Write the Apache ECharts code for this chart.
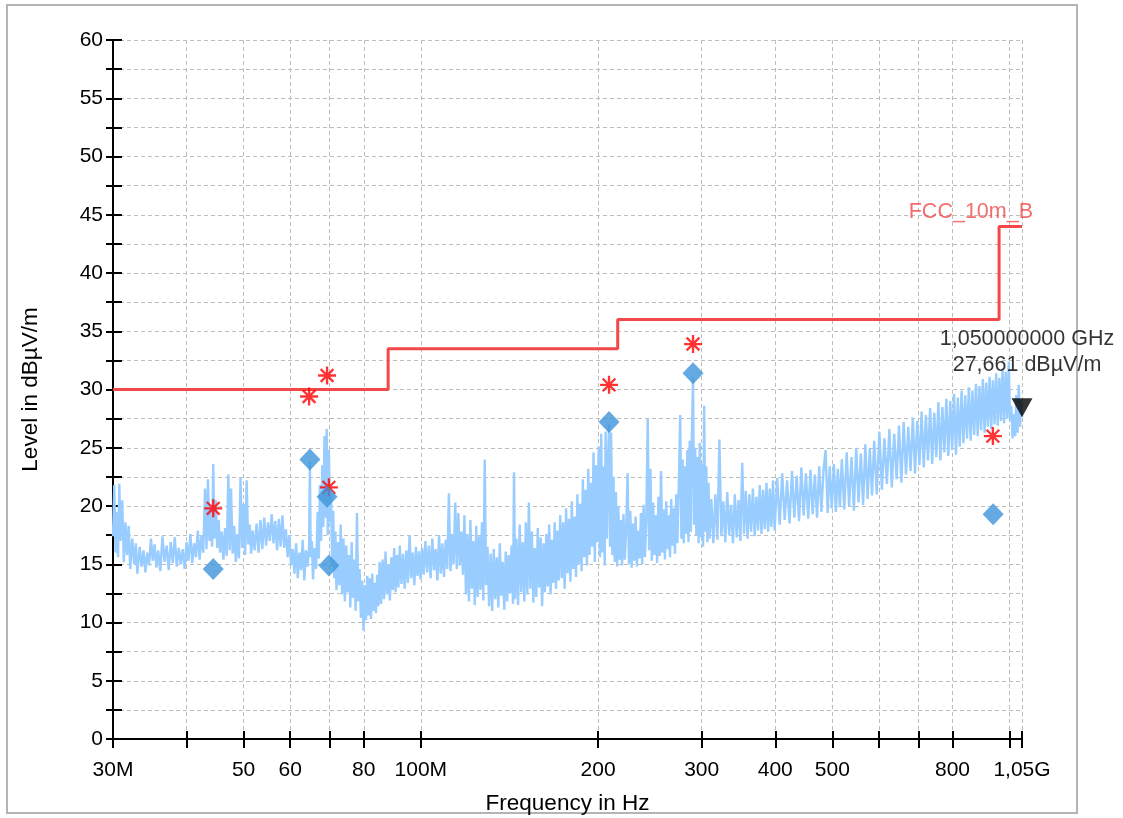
<!DOCTYPE html>
<html><head><meta charset="utf-8">
<script src="https://cdn.jsdelivr.net/npm/echarts@6/dist/echarts.min.js"></script>
<style>html,body{margin:0;padding:0;background:#fff}#c{width:1123px;height:818px}</style>
</head><body><div id="c"></div>
<script>
// ---- data (frequencies in MHz, levels in dBµV/m) ----
const xTickFreqs = [30,40,50,60,70,80,100,200,300,400,500,600,700,800,1000,1050];
const xLabelFreqs = [30,50,60,80,100,200,300,400,500,800,1050];
const xLabelText = {30:'30M',100:'100M',1050:'1,05G'};
const yTicks = [0,5,10,15,20,25,30,35,40,45,50,55,60];

const limitName = 'FCC_10m_B';
const limitFreq  = [30, 88, 88, 216, 216, 960, 960, 1050];
const limitLevel = [30, 30, 33.5, 33.5, 36, 36, 44, 44];

const peakFreq  = [44.4, 64.6, 69.3, 69.8, 208.8, 290, 937];
const peakLevel = [19.8, 29.4, 31.2, 21.6, 30.4, 33.9, 26.0];

const qpFreq  = [44.4, 64.8, 69.3, 69.8, 208.8, 290, 938];
const qpLevel = [14.6, 24.0, 20.8, 14.9, 27.2, 31.4, 19.3];

const markerFreq = 1050;
const markerLevel = 27.661;
const markerText = ['1,050000000 GHz', '27,661 dBµV/m'];

const traceData = [
[30.0,17.4],[30.15,21.8],[30.3,16.0],[30.45,19.5],[30.6,15.6],[30.75,21.9],[30.9,17.0],[31.1,20.5],[31.3,15.2],[31.5,18.6],
[31.7,15.8],[31.9,18.3],[32.1,14.6],[32.35,17.2],[32.6,15.0],[32.8,16.8],[33.0,14.2],[33.3,16.5],[33.55,14.8],[33.8,16.2],[34.05,14.3],[34.3,16.0],[34.55,14.9],[34.8,17.2],[35.05,15.3],[35.3,16.7],[35.55,14.7],[35.8,16.2],[36.1,14.4],[36.4,17.4],[36.7,15.2],[37.0,16.6],[37.3,14.5],[37.6,16.9],[37.9,15.1],[38.2,17.3],[38.5,14.8],[38.8,16.4],[39.1,15.0],[39.4,16.3],[39.7,14.6],[40.0,16.9],[40.3,15.3],[40.6,17.6],[40.9,15.1],[41.2,16.8],[41.5,15.6],[41.8,17.9],[42.1,15.4],[42.4,17.5],[42.7,16.0],
[43.0,21.5],[43.25,16.3],[43.5,22.3],[43.75,17.0],[44.0,19.8],[44.2,16.5],[44.4,23.6],[44.6,17.2],[44.85,20.5],[45.1,16.4],[45.35,18.8],[45.6,16.0],
[45.9,17.8],[46.2,15.4],[46.5,18.1],[46.8,15.7],[47.1,22.7],[47.35,16.2],[47.6,21.5],[47.9,15.9],[48.2,18.3],[48.5,15.2],[48.8,17.6],[49.1,15.5],[49.4,22.4],[49.7,16.4],[50.0,20.2],[50.3,15.8],[50.6,22.2],[50.9,16.7],[51.2,18.4],[51.5,15.9],[51.8,17.9],[52.2,16.2],[52.6,18.5],[53.0,16.0],[53.4,18.8],[53.8,16.3],[54.2,19.0],[54.6,16.6],[55.0,18.6],[55.4,17.0],[55.8,19.3],[56.2,16.8],[56.6,18.7],[57.0,16.2],[57.4,18.9],[57.8,16.5],[58.2,19.2],[58.6,16.4],[59.0,18.0],[59.4,15.6],[59.8,17.5],[60.2,14.9],
[60.6,16.3],[61.0,14.2],[61.4,16.8],[61.8,13.8],[62.2,16.0],[62.6,14.5],[63.0,17.1],[63.4,13.6],[63.8,16.2],[64.2,14.8],[64.6,16.5],[64.8,23.8],[65.0,15.6],[65.3,17.0],[65.6,13.7],[66.0,16.4],[66.4,14.6],
[66.8,19.5],[67.1,15.5],[67.4,21.8],[67.7,17.0],[68.0,23.5],[68.3,18.2],[68.6,26.0],[68.9,19.0],[69.2,26.6],[69.5,17.5],[69.8,24.8],[70.1,18.6],[70.4,21.0],[70.7,14.8],[71.0,19.6],[71.3,13.8],
[71.6,17.8],[71.9,12.8],[72.3,16.9],[72.7,13.2],[73.1,18.4],[73.5,12.4],[73.9,17.2],[74.3,11.8],[74.7,16.6],[75.1,12.6],[75.5,15.8],[75.9,11.3],[76.3,16.9],[76.7,12.1],[77.1,15.4],[77.5,11.0],[77.9,19.4],[78.3,11.8],[78.7,14.6],
[79.1,10.4],[79.5,13.6],[79.9,9.3],[80.3,13.2],[80.7,10.2],[81.1,14.0],[81.5,10.6],[81.9,13.8],[82.3,10.3],[82.7,14.2],[83.1,11.0],[83.5,13.4],[83.9,10.8],[84.3,14.1],[84.7,11.4],[85.1,15.2],
[85.6,11.6],[86.1,15.4],[86.6,12.0],[87.1,16.1],[87.6,12.4],[88.1,15.0],[88.6,11.9],[89.1,15.6],[89.6,12.8],[90.1,16.4],[90.6,12.6],[91.1,15.8],[91.6,13.0],[92.1,16.6],[92.7,13.3],[93.3,15.9],[93.9,12.9],[94.5,16.2],[95.1,13.4],[95.7,17.5],[96.3,13.8],[96.9,16.0],[97.5,13.2],[98.1,16.5],[98.7,14.0],[99.3,16.1],[99.9,13.7],[100.5,16.4],[101.1,14.1],
[101.8,17.0],[102.5,14.3],[103.2,16.6],[103.9,13.8],[104.6,17.2],[105.3,14.5],[106.0,16.3],[106.7,13.6],[107.4,17.5],[108.1,14.2],[108.8,16.8],[109.5,13.9],[110.2,17.1],[110.9,14.6],[111.6,21.1],[112.3,14.4],[113.0,17.6],[113.7,15.0],[114.4,20.3],[115.1,14.6],[115.8,19.4],[116.5,14.9],[117.2,17.8],[117.9,14.1],
[118.6,19.2],[119.3,12.4],[120.0,17.6],[120.7,11.8],[121.4,18.8],[122.1,12.9],[122.8,17.0],[123.5,11.5],[124.2,18.3],[124.9,12.2],[125.6,17.4],[126.3,12.8],[127.0,18.6],[127.7,11.9],[128.4,24.0],[129.1,13.2],
[129.8,16.5],[130.6,11.4],[131.4,15.9],[132.2,11.0],[133.0,16.3],[133.8,12.0],[134.6,15.6],[135.4,11.3],[136.2,16.8],[137.0,12.3],[137.8,15.2],[138.6,11.1],[139.4,16.1],[140.2,11.8],[141.0,15.8],[141.8,12.5],[142.6,16.6],[143.4,11.6],[144.0,22.9],[144.6,12.0],
[145.4,17.2],[146.3,11.5],[147.2,18.4],[148.1,12.6],[149.0,16.9],[149.9,11.8],[150.8,18.6],[151.7,12.4],[152.6,20.3],[153.5,12.9],[154.4,17.8],[155.3,11.7],[156.2,16.4],[157.1,12.2],[158.0,18.1],[158.9,13.0],[159.8,17.3],[160.7,11.4],[161.6,16.8],[162.5,12.6],[163.4,17.6],[164.3,13.1],[165.2,18.4],[166.1,12.4],[167.0,17.1],[167.9,13.4],[168.8,18.6],[169.7,12.9],[170.6,17.9],[171.5,13.6],
[172.5,19.2],[173.5,13.8],[174.5,18.6],[175.5,12.9],[176.5,19.8],[177.5,14.2],[178.5,18.9],[179.5,13.5],[180.5,20.4],[181.5,14.6],[182.5,19.1],[183.5,13.9],[184.5,21.0],[185.5,15.0],[186.5,20.2],[187.5,14.4],[188.5,22.3],[189.5,15.6],[190.5,21.4],[191.5,14.9],[192.5,23.2],[193.5,15.8],[194.5,22.0],[195.5,16.5],[196.5,24.6],[197.5,15.2],[198.5,23.5],[199.5,16.9],[200.5,25.1],[201.5,15.6],
[202.5,26.2],[203.5,16.0],[204.5,23.4],[205.3,14.9],[206.0,26.4],[207.0,17.2],[208.0,24.1],[208.8,27.0],[209.6,16.5],[210.5,26.3],[211.5,15.8],[212.5,22.5],[213.5,15.2],[214.5,21.2],[215.5,14.8],[216.5,20.0],[217.5,15.4],
[218.5,18.8],[219.7,14.9],[220.9,19.3],[222.1,15.4],[223.3,18.2],[224.5,22.8],[225.7,15.0],[226.9,19.6],[228.1,14.7],[229.3,18.5],[230.5,15.3],[231.7,19.1],[232.9,14.8],[234.1,17.9],[235.3,15.5],[236.5,19.4],[237.7,15.0],
[239.0,20.1],[240.3,15.6],[241.6,19.0],[242.9,27.5],[244.2,16.2],[245.5,23.2],[246.8,15.3],[248.1,20.3],[249.4,15.8],[250.7,19.2],[252.0,15.1],[253.3,20.8],[254.6,15.7],[255.9,23.0],[257.2,16.0],[258.5,19.7],[259.8,15.4],[261.1,20.4],[262.4,16.3],[263.7,19.2],[265.0,15.6],[266.3,20.6],[267.6,16.6],[268.9,19.8],[270.2,15.9],[271.5,21.0],[272.8,16.8],
[274.5,22.5],[275.8,27.8],[277.1,17.2],[278.4,24.0],[279.7,16.8],[281.0,23.4],[282.3,17.6],[283.6,24.8],[284.9,16.9],[286.2,25.6],[287.5,17.8],[288.8,26.4],[290.0,31.0],[291.2,18.4],[292.5,25.0],[293.8,17.5],[295.1,24.2],[296.4,16.8],[297.7,25.4],[299.0,17.3],[300.3,23.6],[301.6,16.5],[302.9,28.6],[304.2,17.8],[305.5,23.4],[306.8,16.9],[308.1,22.0],[309.4,17.2],
[311.5,20.6],[314,16.8],[316.5,21.0],[319,17.1],[321.5,25.7],[324,17.4],[326.5,20.4],[329,16.9],[331.5,21.2],[334,17.5],[336.5,20.1],[339,16.8],[341.5,21.0],[344,17.3],[346.5,20.5],[349,17.0],[351.5,23.7],[354,17.6],[356.5,21.3],[359,17.2],[361.5,21.0],[364,17.8],[366.5,21.5],[369,17.4],[371.5,20.8],[374,17.9],[376.5,21.8],[379,17.6],[381.5,21.4],[384,18.0],[386.5,22.0],[389,17.8],[391.5,21.5],[394,18.2],[396.5,22.2],[399,17.9],
[403,22.4],[407,18.4],[411,22.8],[415,18.8],[419,22.2],[423,18.5],[427,23.0],[431,19.0],[435,22.6],[439,18.7],[443,23.3],[447,19.2],[451,22.8],[455,18.9],[459,23.1],[463,19.3],[467,22.7],[471,19.0],[475,23.4],[479,19.5],[483,23.0],[487,24.8],[491,19.4],[495,23.4],[499,19.8],[503,23.6],[507,19.5],[511,23.2],[515,19.9],[519,24.0],
[524,19.7],[529,24.6],[534,20.0],[539,24.2],[544,19.6],[549,25.0],[554,20.3],[559,24.5],[564,20.1],[569,25.3],[574,20.6],[579,24.9],[584,20.9],[589,25.6],[595,21.0],[601,26.4],[607,21.4],[613,25.8],[619,21.9],[625,26.6],[631,21.6],[637,26.2],[643,22.3],[649,26.9],[655,22.0],[661,27.2],[667,22.7],[673,26.8],[679,23.0],[685,27.6],[691,22.8],[697,27.3],[703,23.5],[709,28.1],[715,23.3],[721,27.8],[727,23.9],[733,28.4],[739,23.6],[745,28.0],[751,24.2],[757,28.9],[763,23.9],[769,28.5],[775,24.6],[781,29.2],[787,24.3],[793,29.0],[799,24.8],[805,29.6],[811,24.4],[817,29.3],[823,25.1],[829,29.9],[835,25.4],[841,29.5],[847,25.8],[853,30.2],[859,25.6],[865,29.9],[871,26.1],[877,30.5],[883,26.0],[889,30.3],[895,26.5],[901,30.9],[907,26.3],[913,30.6],[919,26.8],[925,31.1],[931,26.6],[937,30.8],[943,27.0],[949,31.4],[955,26.9],[961,31.0],[967,27.3],[973,31.8],[979,27.1],[985,31.5],[991,27.5],[997,32.4],[1002,27.3],
[1007,28.6],[1012,25.8],[1017,27.9],[1022,26.0],[1027,29.5],[1032,26.3],[1037,30.4],[1042,26.8],[1046,29.0],[1050,27.661]
];

// ---- chart ----
const L = Math.log10;
const FONT = '"Liberation Sans", Arial, sans-serif';
const xMin = L(30), xMax = L(1050);
const tickVals = xTickFreqs.map(L);
const labelVals = xLabelFreqs.map(L);
const xFmt = v => { const f = Math.round(Math.pow(10, v)); return xLabelText[f] || String(f); };
const toXY = (fs, ls) => fs.map((f, i) => [L(f), ls[i]]);

const starPath = 'path://M8.7,0L11.3,0L11.3,20L8.7,20Z M0,8.7L20,8.7L20,11.3L0,11.3Z M3.85,2.01L17.99,16.15L16.15,17.99L2.01,3.85Z M16.15,2.01L17.99,3.85L3.85,17.99L2.01,16.15Z';

const gridDash = {color:'#bdbdbd', width:1, type:[4,3]};

const chart = echarts.init(document.getElementById('c'), null, {renderer:'canvas'});
chart.setOption({
  animation:false,
  backgroundColor:'#ffffff',
  textStyle:{fontFamily:FONT},
  graphic:[{type:'rect', shape:{x:7,y:5,width:1070,height:808}, style:{fill:'none', stroke:'#b4b4b4', lineWidth:2}, silent:true, z:-10}],
  grid:{left:113, right:101, top:40, bottom:79, containLabel:false, outerBoundsMode:'none'},
  xAxis:[{
    type:'value', min:xMin, max:xMax, position:'bottom',
    name:'Frequency in Hz', nameLocation:'middle', nameGap:53,
    nameTextStyle:{fontSize:22.5, color:'#000', fontFamily:FONT},
    axisLine:{show:true, onZero:false, lineStyle:{color:'#000', width:2}},
    axisTick:{show:true, inside:false, length:9, customValues:tickVals, lineStyle:{color:'#000', width:2}},
    axisLabel:{show:true, customValues:labelVals, formatter:xFmt, fontSize:21, color:'#000', margin:21, fontFamily:FONT},
    splitLine:{show:true, lineStyle:gridDash}
  },{
    type:'value', min:xMin, max:xMax, position:'bottom',
    axisLine:{show:false},
    axisTick:{show:true, inside:true, length:8, customValues:tickVals, lineStyle:{color:'#000', width:2}},
    axisLabel:{show:false}, splitLine:{show:false}
  }],
  yAxis:[{
    type:'value', min:0, max:60, interval:2.5, position:'left',
    name:'Level in dBµV/m', nameLocation:'middle', nameGap:71,
    nameTextStyle:{fontSize:22.5, color:'#000', fontFamily:FONT},
    axisLine:{show:true, onZero:false, lineStyle:{color:'#000', width:2}},
    axisTick:{show:true, inside:false, length:7, lineStyle:{color:'#000', width:2}},
    axisLabel:{fontSize:21, color:'#000', margin:10, fontFamily:FONT,
      formatter: v => (yTicks.indexOf(v) >= 0 ? String(v) : '')},
    splitLine:{show:true, lineStyle:gridDash}
  },{
    type:'value', min:0, max:60, interval:2.5, position:'left',
    axisLine:{show:false},
    axisTick:{show:true, inside:true, length:9, lineStyle:{color:'#000', width:2}},
    axisLabel:{show:false}, splitLine:{show:false}
  }],
  series:[
    {type:'line', name:'trace', data:traceData.map(p => [L(p[0]), p[1]]),
     symbol:'none', clip:true, z:2,
     lineStyle:{color:'#99ccff', width:2.4}},
    {type:'line', name:limitName, data:toXY(limitFreq, limitLevel),
     symbol:'none', z:3, lineStyle:{color:'#f44848', width:3}},
    {type:'scatter', name:'limitLabel', data:[[L(limitFreq[limitFreq.length-1]), limitLevel[limitLevel.length-1]]],
     symbolSize:0, z:4, silent:true,
     label:{show:true, position:'top', distance:3, align:'right', verticalAlign:'bottom', offset:[11,0],
       formatter:limitName, color:'#f04848', fontSize:21.5, fontFamily:FONT}},
    {type:'scatter', name:'peak', data:toXY(peakFreq, peakLevel),
     symbol:starPath, symbolSize:18, z:5, itemStyle:{color:'#ff0000'}},
    {type:'scatter', name:'qp', data:toXY(qpFreq, qpLevel),
     symbol:'diamond', symbolSize:[21,22], z:6, itemStyle:{color:'#3d93da'}},
    {type:'scatter', name:'marker', data:[[L(markerFreq), markerLevel]],
     symbol:'triangle', symbolRotate:180, symbolSize:[21,19], symbolOffset:[0,-9], z:7,
     itemStyle:{color:'#000'},
     label:{show:true, position:'top', distance:20, offset:[5,0], align:'center',
       formatter:markerText.join('\n'), color:'#000', fontSize:21.5, lineHeight:26, fontFamily:FONT}}
  ]
});
</script></body></html>
